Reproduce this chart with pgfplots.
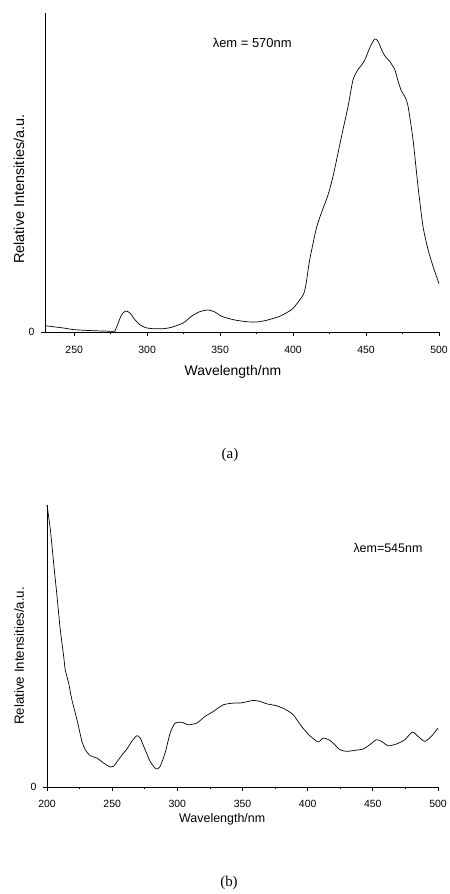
\documentclass[border=0pt]{standalone}
\usepackage{fontspec}
\setmainfont{Liberation Sans}
\newfontfamily\serifcap{Liberation Serif}
\usepackage{pgfplots}
\pgfplotsset{compat=1.18}
\pgfplotstableread{
x y
230 6.3
242.6 4
250 2.3
263 1.3
276.8 0.7
278 1.3
280.2 9
282.5 17.3
285.2 21
288.2 19
291.6 12.3
295 7.3
299 4.3
304 3.3
311 3.3
316.7 4.7
324.7 9
330.4 15.7
336 20.3
341.8 22
346.4 20
351 15.7
359 12.3
368 10.3
375 10
381.8 11.7
390.9 15.7
398.9 22.3
403.4 29.7
407.3 38.3
409 49
411.4 72.3
416 104
419.4 119
424 137.3
427.4 155.7
430.8 179
434.2 202.3
437.7 225.7
441.1 252.3
444.5 262.3
448 269
450.2 275.7
453 285.7
456 293
458.2 290.7
461.7 279
464 274
466.2 270.7
469.7 262.3
472 250.7
474.3 240.7
476.5 235.7
478.8 225.7
482.2 192.3
485.6 145.7
489 105.7
492.5 82.3
495.9 65.7
500 48.3
}\dataA
\pgfplotstableread{
x y
200 282.3
202.6 257.3
205.1 224
207.7 190.7
210.2 157.3
212.8 130.7
214 117.3
216.6 104
219.1 87.3
223 67.3
226.8 45.7
229.4 37.3
233.2 31.3
238.3 29
243.4 24
248.5 20
251 20.7
254.9 27.3
258.7 34
261.3 38
265.1 45.7
268.9 51.3
271.5 49
275.3 37.3
279.1 25.7
283.7 18
286.8 20.7
290.6 34
294.5 54
298.3 64
303.4 64.7
308.5 62.3
314.9 64
321.3 70.7
327.7 75.7
335.3 82.3
343 84
348 84
353.2 85.3
358.3 86.7
363.4 85.7
368.5 83.3
376.2 81.3
382.5 78
388.9 72.3
395.3 60.7
401.7 51.3
408.1 45
411.9 49
417 46.7
420.8 42.3
424.7 37.3
429.8 35.7
436.2 36.7
442.5 38
447.6 42.3
452.7 47.3
456.6 45.7
461.7 41.3
468 43
474.5 47.3
480.3 55
484.7 50.7
489.8 45.7
494.9 50.7
500 59
}\dataB
\begin{document}
\begin{tikzpicture}[x=1bp,y=1bp]
\useasboundingbox (0,0) rectangle (450,894);
\pgfplotsset{myax/.style={
  scale only axis, anchor=south west,
  axis x line*=bottom, axis y line*=left,
  axis line style={-, line width=0.8bp},
  tick align=outside, major tick length=4bp, minor tick length=2.5bp,
  every tick/.style={black, line width=0.8bp},
  ymin=0, ytick={0}, minor x tick num=1,
  /pgf/number format/assume math mode=true,
  tick label style={font=\fontsize{10.5}{12}\selectfont},
  yticklabel style={xshift=-3bp},
  clip=false,
}}
% panel (a)
\begin{axis}[myax, at={(45bp,562bp)}, width=394bp, height=319bp,
  xmin=230, xmax=500, ymax=319,
  xtick={250,300,350,400,450,500},
  xticklabel style={yshift=-7bp},
  xlabel={Wavelength/nm},
  xlabel style={font=\fontsize{14}{16}\selectfont, at={(axis description cs:0.477,-0.125)}, anchor=center},
  ylabel={Relative Intensities/a.u.},
  ylabel style={font=\fontsize{14.5}{16}\selectfont, at={(axis description cs:-0.066,0.448)}, anchor=center},
]
\addplot[black, line width=0.7bp, smooth, tension=0.4] table[x=x,y=y] {\dataA};
\node[font=\fontsize{13}{15}\selectfont] at (axis cs:372,289) {λem = 570nm};
\end{axis}
% panel (b)
\begin{axis}[myax, at={(47bp,107bp)}, width=391bp, height=282bp,
  xmin=200, xmax=500, ymax=282.3,
  xtick={200,250,300,350,400,450,500},
  xticklabel style={yshift=-6bp},
  xlabel={Wavelength/nm},
  xlabel style={font=\fontsize{12.5}{14}\selectfont, at={(axis description cs:0.448,-0.113)}, anchor=center},
  ylabel={Relative Intensities/a.u.},
  ylabel style={font=\fontsize{13.4}{15}\selectfont, at={(axis description cs:-0.0716,0.465)}, anchor=center},
]
\addplot[black, line width=0.7bp, smooth, tension=0.4] table[x=x,y=y] {\dataB};
\node[font=\fontsize{12.5}{15}\selectfont] at (axis cs:461.6,239) {λem=545nm};
\end{axis}
\node[font=\serifcap\fontsize{15}{18}\selectfont] at (230,439) {(a)};
\node[font=\serifcap\fontsize{15}{18}\selectfont] at (229,11) {(b)};
\end{tikzpicture}
\end{document}
